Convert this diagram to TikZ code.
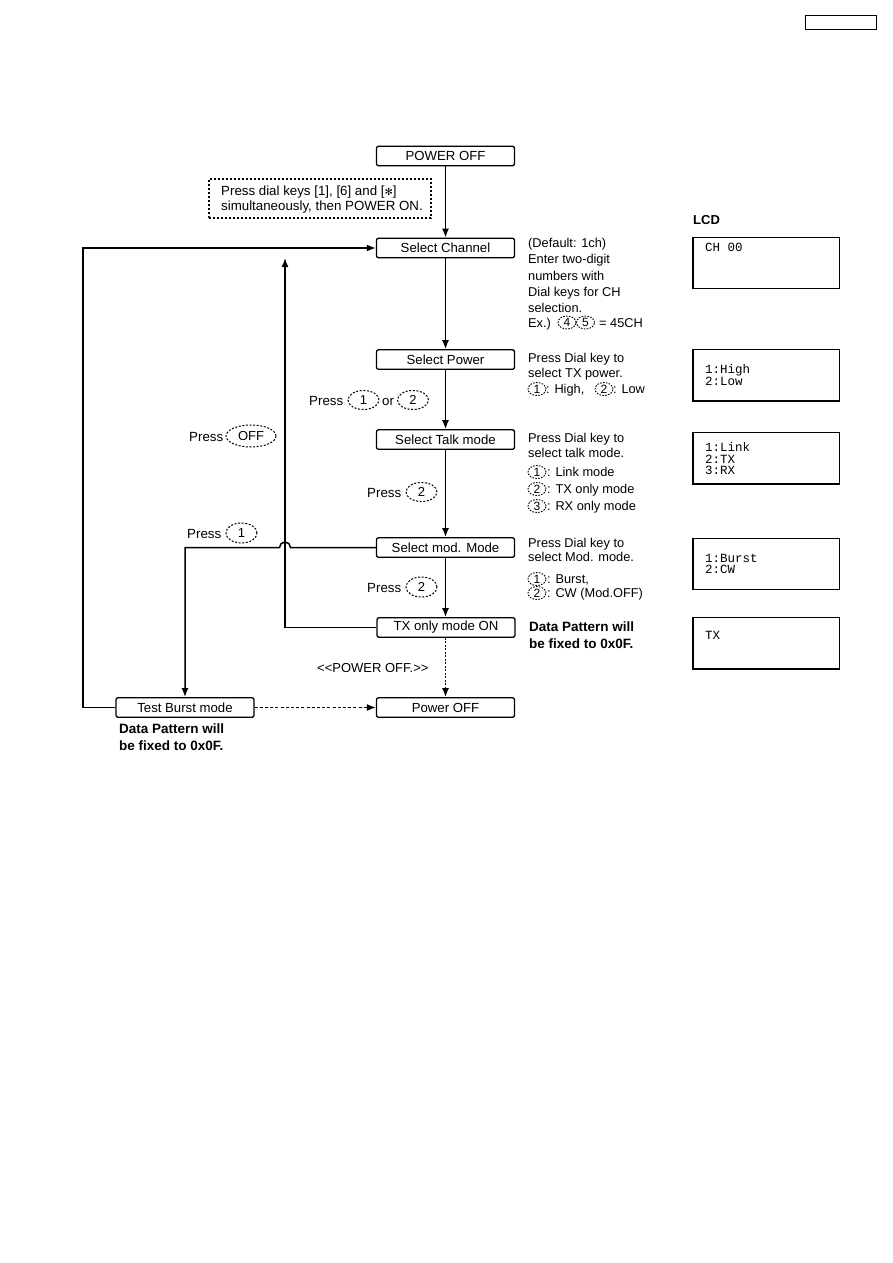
\documentclass[tikz,border=0pt]{standalone}
\usepackage{fontspec}
\setmainfont{Liberation Sans}
\newfontfamily\lcdfont{Liberation Mono}
\newfontfamily\symfont{DejaVu Sans}
\usetikzlibrary{arrows.meta,shapes.geometric}
\begin{document}
\begin{tikzpicture}[x=1pt,y=-1pt,
  fbox/.style={draw,line width=1.3pt,rounded corners=2pt,minimum width=138pt,minimum height=19.5pt,inner sep=0pt,font=\fontsize{13.2}{15}\selectfont},
  arr/.style={line width=1.5pt,-{Latex[length=9pt,width=7pt]}},
  keybig/.style={draw,ellipse,line width=1pt,dash pattern=on 2pt off 1.6pt,inner sep=0pt,minimum width=31pt,minimum height=19pt,font=\fontsize{13}{15}\selectfont},
  keysm/.style={draw,ellipse,line width=0.9pt,dash pattern=on 1.6pt off 1.3pt,inner sep=0pt,minimum width=18pt,minimum height=13pt,font=\fontsize{12}{14}\selectfont},
  desc/.style={anchor=base west,inner sep=0pt,font=\fontsize{12.8}{15}\selectfont},
  presslbl/.style={anchor=base west,inner sep=0pt,font=\fontsize{13.3}{15}\selectfont},
  boldlbl/.style={anchor=base west,inner sep=0pt,font=\fontsize{13.5}{15}\selectfont\bfseries},
  lcd/.style={draw,line width=1pt,minimum width=146pt,minimum height=51pt,inner sep=0pt},
  lcdtxt/.style={anchor=base west,inner sep=0pt,font=\fontsize{12.5}{14}\lcdfont}
]
\useasboundingbox (0,0) rectangle (893,1263);
\fill[white] (0,0) rectangle (893,1263);

% header box
\node[draw,line width=1pt,minimum width=71pt,minimum height=14pt,inner sep=0pt] (hdr) at (840.5,23) {};

% main boxes
\node[fbox] (pwr)  at (445.5,156)   {POWER OFF};
\node[fbox] (ch)   at (445.5,248)   {Select Channel};
\node[fbox] (pw)   at (445.5,359.5) {Select Power};
\node[fbox] (talk) at (445.5,439.5) {Select Talk mode};
\node[fbox] (mod)  at (445.5,547.5) {Select mod. Mode};
\node[fbox] (tx)   at (446,627.5)   {TX only mode ON};
\node[fbox] (poff) at (445.5,707.5) {Power OFF};
\node[fbox] (tb)   at (185,707.5)   {Test Burst mode};

% hint box
\node[draw,line width=1.1pt,dash pattern=on 2.2pt off 1.8pt,minimum width=222pt,minimum height=39pt,inner sep=0pt] (hint) at (320,198.5) {};
\node[anchor=base west,inner sep=0pt,font=\fontsize{13.3}{15}\selectfont] (hint1) at (221,195)
  {Press dial keys [1], [6] and [{\symfont\fontsize{10}{12}\selectfont ✻}]};
\node[anchor=base west,inner sep=0pt,font=\fontsize{13.3}{15}\selectfont] (hint2) at (221,210.5)
  {simultaneously, then POWER ON.};

% main flow arrows
\draw[arr] (pwr.south) -- (ch.north);
\draw[arr] (ch.south) -- (pw.north);
\draw[arr] (pw.south) -- (talk.north);
\draw[arr] (talk.south) -- (mod.north);
\draw[arr] (mod.south) -- (tx.north -| mod.south);
\draw[line width=1.7pt,dash pattern=on 1.7pt off 1.8pt] (tx.south -| mod.south) -- ++(0,52);
\coordinate (dotend) at (445.5,689);
\draw[arr] (dotend) -- (poff.north);
\draw[line width=1.3pt,dash pattern=on 3pt off 2.2pt,-{Latex[length=9pt,width=7pt]}] (tb.east) -- (poff.west);

% feedback loops
\coordinate (lb) at (83,707.5);
\coordinate (lt) at (83,248);
\draw[arr] (tb.west) -- (lb) -- (lt) -- (ch.west);
\coordinate (ub) at (285,627.5);
\coordinate (ut) at (285,258);
\draw[arr] (tx.west) -- (ub) -- (ut);
\coordinate (hopr) at (290.5,547.5);
\coordinate (mleft) at (185,547.5);
\draw[arr] (mod.west) -- (hopr) arc (0:-180:5.5) -- (mleft) -- (tb.north);

% press labels
\node[presslbl] (p1) at (309,405) {Press};
\node[keybig] (k1) at (363.5,400) {1};
\node[presslbl] (p1or) at (382,405) {or};
\node[keybig] (k2) at (413,400) {2};

\node[presslbl] (p2) at (189,441) {Press};
\node[keybig,minimum width=50pt,minimum height=22pt] (koff) at (251,436) {OFF};

\node[presslbl] (p3) at (367,497) {Press};
\node[keybig] (k3) at (421.5,492) {2};

\node[presslbl] (p4) at (187,538) {Press};
\node[keybig,minimum height=20pt] (k4) at (241.5,533) {1};

\node[presslbl] (p5) at (367,592) {Press};
\node[keybig,minimum height=20pt] (k5) at (421.5,587) {2};

\node[anchor=base west,inner sep=0pt,font=\fontsize{13}{15}\selectfont] (pofftxt) at (317,672) {{<}{<}POWER OFF.{>}{>}};

% descriptions: channel
\node[desc] (c1) at (528,247) {(Default: 1ch)};
\node[desc] (c2) at (528,263.5) {Enter two-digit};
\node[desc] (c3) at (528,280) {numbers with};
\node[desc] (c4) at (528,296) {Dial keys for CH};
\node[desc] (c5) at (528,312) {selection.};
\node[desc] (c6) at (528,327) {Ex.)};
\node[keysm] (c7) at (567,322.5) {4};
\node[keysm] (c8) at (585.5,322.5) {5};
\node[desc] (c9) at (599,327) {= 45CH};

% power
\node[desc] (w1) at (528,362) {Press Dial key to};
\node[desc] (w2) at (528,377) {select TX power.};
\node[keysm] (w3) at (537,389) {1};
\node[desc] (w4) at (546,393) {: High,};
\node[keysm] (w5) at (604,389) {2};
\node[desc] (w6) at (613,393) {: Low};

% talk
\node[desc] (t1) at (528,442) {Press Dial key to};
\node[desc] (t2) at (528,457) {select talk mode.};
\node[keysm] (t3) at (537,472) {1};
\node[desc] (t4) at (547,476) {: Link mode};
\node[keysm] (t5) at (537,489) {2};
\node[desc] (t6) at (547,493) {: TX only mode};
\node[keysm] (t7) at (537,506) {3};
\node[desc] (t8) at (547,510) {: RX only mode};

% mod
\node[desc] (m1) at (528,547) {Press Dial key to};
\node[desc] (m2) at (528,561) {select Mod. mode.};
\node[keysm] (m3) at (537,579) {1};
\node[desc] (m4) at (547,583) {: Burst,};
\node[keysm] (m5) at (537,593) {2};
\node[desc] (m6) at (547,597) {: CW (Mod.OFF)};

\node[boldlbl] (b1) at (529,631) {Data Pattern will};
\node[boldlbl] (b2) at (529,648) {be fixed to 0x0F.};
\node[boldlbl] (b3) at (119,733) {Data Pattern will};
\node[boldlbl] (b4) at (119,750) {be fixed to 0x0F.};

% LCD
\node[anchor=base west,inner sep=0pt,font=\fontsize{13}{15}\selectfont\bfseries] (lcdlbl) at (693,224) {LCD};
\node[lcd] (l1) at (766,262.5) {};
\node[lcd] (l2) at (766,375) {};
\node[lcd] (l3) at (766,458) {};
\node[lcd] (l4) at (766,563.5) {};
\node[lcd] (l5) at (766,643) {};
\foreach \n in {l1,l2,l3,l4,l5}{
  \draw[line width=1.8pt] (\n.north west) -- (\n.south west) -- (\n.south east);
}
\node[lcdtxt] (lt1) at (705,251) {CH 00};
\node[lcdtxt] (lt2) at (705,373) {1:High};
\node[lcdtxt] (lt3) at (705,385) {2:Low};
\node[lcdtxt] (lt4) at (705,451) {1:Link};
\node[lcdtxt] (lt5) at (705,463) {2:TX};
\node[lcdtxt] (lt6) at (705,474.5) {3:RX};
\node[lcdtxt] (lt7) at (705,562) {1:Burst};
\node[lcdtxt] (lt8) at (705,573.5) {2:CW};
\node[lcdtxt] (lt9) at (705,639) {TX};
\end{tikzpicture}
\end{document}
